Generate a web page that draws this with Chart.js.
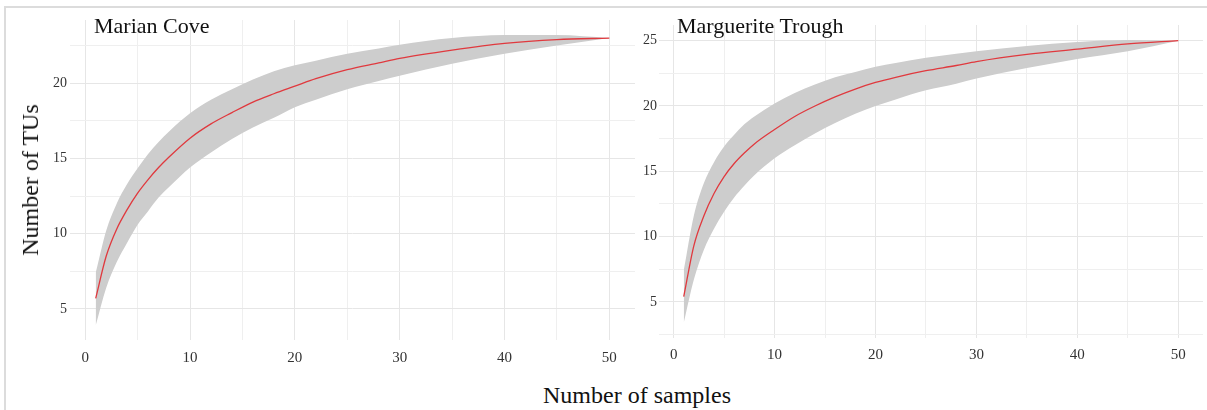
<!DOCTYPE html>
<html>
<head>
<meta charset="utf-8">
<script src="https://cdn.jsdelivr.net/npm/chart.js@4.4.1/dist/chart.umd.min.js"></script>
<style>
  body { margin: 0; background: #fff; width: 1207px; height: 410px; overflow: hidden; position: relative;
         font-family: "Liberation Serif", "DejaVu Serif", serif; }
  .frame { position: absolute; left: 4px; top: 6px; width: 1210px; height: 410px; border-top: 2px solid #dcdcdc; border-left: 2px solid #dcdcdc; }
  .panel { position: absolute; top: 0; }
  .ptitle { position: absolute; font-size: 22px; line-height: 1; color: #111; white-space: nowrap; }
  .axtitle { position: absolute; font-size: 24px; line-height: 1; color: #111; white-space: nowrap; }
</style>
</head>
<body>
<div class="frame"></div>
<div class="panel" style="left:0px"><canvas id="cove" width="640" height="365"></canvas></div>
<div class="panel" style="left:620px"><canvas id="trough" width="587" height="365"></canvas></div>
<div class="ptitle" style="left:94px; top:15px">Marian Cove</div>
<div class="ptitle" style="left:677px; top:15px">Marguerite Trough</div>
<div class="axtitle" style="left:30px; top:180px; transform: translate(-50%,-50%) rotate(-90deg)">Number of TUs</div>
<div class="axtitle" style="left:637px; top:395px; transform: translate(-50%,-50%)">Number of samples</div>

<script>
// Courbes de rarefaction : nombre de TUs selon le nombre d'echantillons
const samples = [1, 2, 3, 4, 5, 6, 7, 8, 10, 12, 14, 16, 18, 20, 22, 25, 28, 30, 35, 40, 45, 50];

const coveMean  = [5.7, 8.5, 10.3, 11.6, 12.7, 13.6, 14.4, 15.1, 16.35, 17.3, 18.05, 18.75, 19.3, 19.8, 20.3, 20.9, 21.35, 21.65, 22.2, 22.65, 22.9, 23.0];
const coveUpper = [7.4, 10.2, 12.0, 13.3, 14.35, 15.3, 16.1, 16.8, 18.0, 18.9, 19.6, 20.25, 20.8, 21.2, 21.5, 21.95, 22.3, 22.55, 23.0, 23.2, 23.2, 23.0];
const coveLower = [3.9, 6.4, 8.1, 9.4, 10.6, 11.5, 12.4, 13.1, 14.4, 15.4, 16.3, 17.05, 17.7, 18.4, 18.9, 19.6, 20.15, 20.5, 21.3, 21.95, 22.5, 23.0];

const troughMean  = [5.4, 9.3, 11.6, 13.3, 14.6, 15.6, 16.4, 17.1, 18.2, 19.2, 20.0, 20.7, 21.3, 21.8, 22.2, 22.7, 23.1, 23.4, 23.95, 24.35, 24.75, 25.0];
const troughUpper = [7.4, 11.6, 14.1, 15.7, 16.9, 17.8, 18.6, 19.2, 20.2, 21.0, 21.65, 22.2, 22.6, 23.0, 23.3, 23.7, 24.0, 24.2, 24.6, 24.9, 25.05, 25.0];
const troughLower = [3.4, 6.7, 9.0, 10.6, 11.9, 13.0, 13.9, 14.7, 16.0, 17.0, 17.9, 18.7, 19.4, 20.0, 20.5, 21.2, 21.7, 22.1, 22.9, 23.6, 24.2, 25.0];

// Lignes de grille / graduations
const xGrid = [0, 5, 10, 15, 20, 25, 30, 35, 40, 45, 50];
const coveYGrid = [5, 7.5, 10, 12.5, 15, 17.5, 20, 22.5];
const troughYGrid = [2.5, 5, 7.5, 10, 12.5, 15, 17.5, 20, 22.5, 25];

const lineColor = '#e0393e';
const bandColor = 'rgb(205,205,205)';
const tickFont = { family: '"Liberation Serif", "DejaVu Serif", serif', size: 15 };

function toPoints(values) {
  return samples.map((s, i) => ({ x: s, y: values[i] }));
}

function gridColor(ctx, major) {
  const v = ctx.tick ? ctx.tick.value : 0;
  return (v % major === 0) ? '#e6e6e6' : '#efefef';
}

function makePanel(canvasId, mean, upper, lower, yGrid, cfg) {
  const ctx = document.getElementById(canvasId).getContext('2d');
  return new Chart(ctx, {
    type: 'line',
    data: {
      datasets: [
        {
          // courbe moyenne (au-dessus)
          data: toPoints(mean),
          borderColor: lineColor,
          borderWidth: 1.3,
          pointRadius: 0,
          fill: false,
          cubicInterpolationMode: 'monotone'
        },
        {
          // borne haute, remplie jusqu'a la borne basse
          data: toPoints(upper),
          borderWidth: 0,
          borderColor: 'rgba(0,0,0,0)',
          backgroundColor: bandColor,
          pointRadius: 0,
          fill: '+1',
          cubicInterpolationMode: 'monotone'
        },
        {
          data: toPoints(lower),
          borderWidth: 0,
          borderColor: 'rgba(0,0,0,0)',
          pointRadius: 0,
          fill: false,
          cubicInterpolationMode: 'monotone'
        }
      ]
    },
    options: {
      responsive: false,
      animation: false,
      devicePixelRatio: 1,
      layout: { padding: { top: cfg.top, right: cfg.right, left: 0, bottom: 0 } },
      plugins: { legend: { display: false }, tooltip: { enabled: false } },
      scales: {
        x: {
          type: 'linear',
          min: -1.45,
          max: 52.45,
          afterFit: s => { s.height = cfg.xHeight; },
          afterBuildTicks: s => { s.ticks = xGrid.map(v => ({ value: v })); },
          border: { display: false },
          grid: { drawTicks: false, color: c => gridColor(c, 10), lineWidth: 1 },
          ticks: {
            padding: 9,
            color: '#333',
            font: tickFont,
            maxRotation: 0,
            autoSkip: false,
            callback: v => (v % 10 === 0 ? String(v) : '')
          }
        },
        y: {
          type: 'linear',
          min: cfg.yMin,
          max: cfg.yMax,
          afterFit: s => { s.width = cfg.yWidth; },
          afterBuildTicks: s => { s.ticks = yGrid.map(v => ({ value: v })); },
          border: { display: false },
          grid: { drawTicks: false, color: c => gridColor(c, 5), lineWidth: 1 },
          ticks: {
            padding: cfg.yPad,
            color: '#333',
            font: { family: tickFont.family, size: 14 },
            autoSkip: false,
            callback: v => (v % 5 === 0 ? String(v) : '')
          }
        }
      }
    }
  });
}

makePanel('cove', coveMean, coveUpper, coveLower, coveYGrid,
  { top: 20, right: 5, xHeight: 25, yWidth: 70, yPad: 3, yMin: 2.94, yMax: 24.2 });

makePanel('trough', troughMean, troughUpper, troughLower, troughYGrid,
  { top: 25, right: 4, xHeight: 27.5, yWidth: 39, yPad: 2, yMin: 2.28, yMax: 26.2 });
</script>
</body>
</html>
